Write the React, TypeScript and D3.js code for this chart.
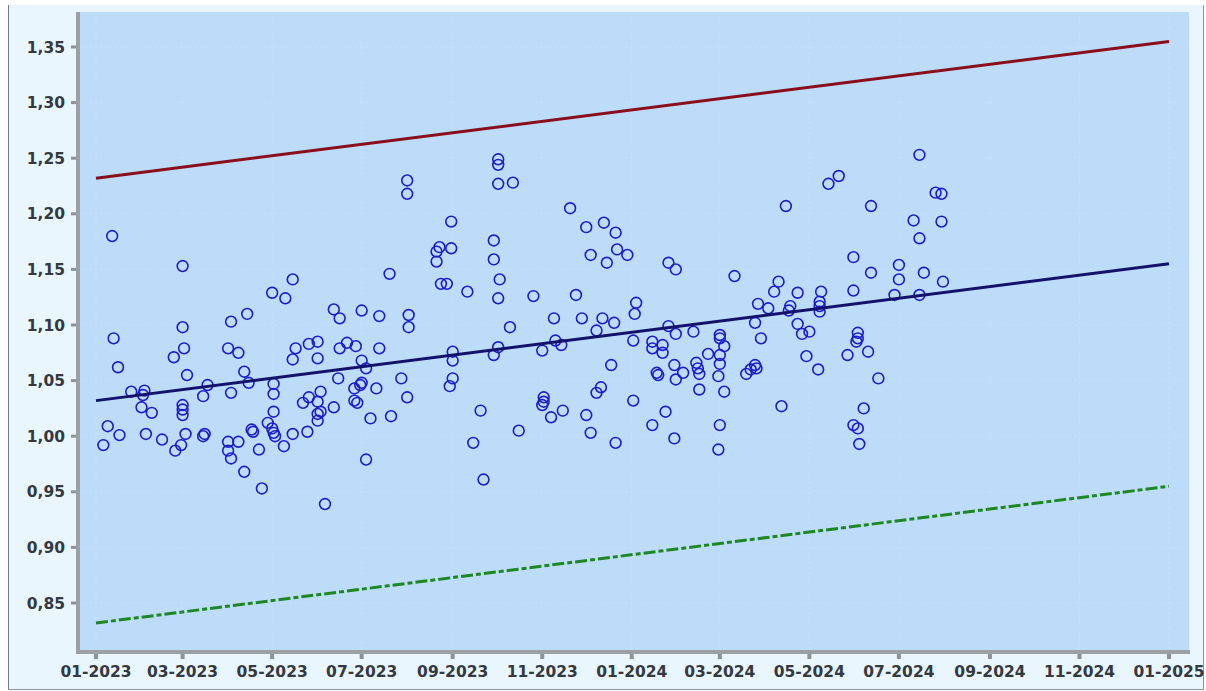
import React from "react";
import * as d3 from "d3";

// ---- data ----
// day offset from 2023-01-01, value
const pointDays: number[] = [
  5, 8, 11, 12, 16, 15, 24, 33, 32, 31, 38, 34, 45, 54, 58, 59, 59, 60, 53, 62,
  59, 59, 59, 61, 73, 74, 76, 73, 90, 92, 97, 92, 90, 97, 90, 92, 101, 113, 111, 106,
  107, 117, 120, 121, 122, 121, 128, 134, 144, 141, 145, 153, 151, 153, 151, 151, 162, 165, 176, 180,
  181, 176, 178, 191, 187, 184, 156, 103, 120, 129, 134, 162, 166, 181, 193, 136, 134, 145, 151, 151,
  166, 171, 177, 193, 181, 184, 101, 104, 121, 121,
  274, 274, 274, 284, 212, 212, 323, 334, 346, 354, 355, 337, 362, 348, 390, 395, 242, 234, 232, 242,
  232, 271, 271, 275, 274, 235, 239, 253, 200, 298, 327, 368, 367, 213, 213, 312, 331, 345, 353, 341,
  282, 243, 243, 274, 271, 304, 313, 317, 366, 379, 379, 386, 386, 395, 390, 351, 394, 382, 383, 395,
  208, 243, 241, 212, 201, 262, 305, 305, 304, 310, 318, 344, 341, 366, 334, 337, 354, 379, 388, 394,
  288, 257, 264,
  561, 506, 499, 572, 576, 470, 528, 557, 576, 561, 516, 547, 528, 547, 564, 577, 435, 465, 462, 478,
  494, 516, 544, 561, 451, 458, 473, 472, 493, 493, 493, 449, 453, 478, 481, 486, 519, 519, 518, 526,
  512, 484, 492, 533, 407, 425, 425, 428, 417, 425, 425, 424, 428, 411, 409, 410, 411, 400, 443, 446,
  449, 450, 467, 523, 516, 519, 520, 425, 424,
];
const pointValues: number[] = [
  0.992, 1.009, 1.180, 1.088, 1.001, 1.062, 1.040, 1.041, 1.037, 1.026, 1.021, 1.002, 0.997, 0.987, 0.992, 1.153, 1.098, 1.079, 1.071, 1.055,
  1.028, 1.024, 1.019, 1.002, 1.000, 1.002, 1.046, 1.036, 1.079, 1.103, 1.075, 1.039, 0.995, 0.995, 0.987, 0.980, 0.968, 0.953, 0.988, 1.006,
  1.004, 1.012, 1.007, 1.003, 1.000, 1.022, 0.991, 1.002, 1.004, 1.030, 1.035, 1.040, 1.031, 1.022, 1.020, 1.014, 1.026, 1.052, 1.043, 1.046,
  1.048, 1.032, 1.030, 1.043, 1.016, 0.979, 0.939, 1.110, 1.129, 1.124, 1.141, 1.114, 1.106, 1.113, 1.108, 1.079, 1.069, 1.083, 1.085, 1.070,
  1.079, 1.084, 1.081, 1.079, 1.068, 1.061, 1.058, 1.048, 1.047, 1.038,
  1.249, 1.244, 1.227, 1.228, 1.230, 1.218, 1.205, 1.188, 1.192, 1.183, 1.168, 1.163, 1.163, 1.156, 1.156, 1.150, 1.193, 1.170, 1.166, 1.169,
  1.157, 1.176, 1.159, 1.141, 1.124, 1.137, 1.137, 1.130, 1.146, 1.126, 1.127, 1.120, 1.110, 1.109, 1.098, 1.106, 1.106, 1.106, 1.102, 1.095,
  1.098, 1.076, 1.068, 1.080, 1.073, 1.077, 1.086, 1.082, 1.086, 1.085, 1.079, 1.082, 1.075, 1.092, 1.099, 1.064, 1.064, 1.057, 1.055, 1.051,
  1.052, 1.052, 1.045, 1.035, 1.018, 1.023, 1.035, 1.031, 1.028, 1.017, 1.023, 1.044, 1.039, 1.032, 1.019, 1.003, 0.994, 1.010, 1.022, 0.998,
  1.005, 0.994, 0.961,
  1.253, 1.234, 1.227, 1.219, 1.218, 1.207, 1.207, 1.194, 1.193, 1.178, 1.161, 1.154, 1.147, 1.141, 1.147, 1.139, 1.144, 1.139, 1.130, 1.129,
  1.130, 1.131, 1.127, 1.127, 1.119, 1.115, 1.117, 1.113, 1.121, 1.117, 1.112, 1.102, 1.088, 1.101, 1.092, 1.094, 1.093, 1.088, 1.085, 1.076,
  1.073, 1.072, 1.060, 1.052, 1.094, 1.091, 1.088, 1.081, 1.074, 1.073, 1.065, 1.054, 1.040, 1.042, 1.066, 1.061, 1.056, 1.057, 1.056, 1.060,
  1.064, 1.061, 1.027, 1.025, 1.010, 1.007, 0.993, 1.010, 0.988,
];
const trendDates = ["2023-01-01", "2025-01-01"];
const trendValues = [1.032, 1.155];
const bandOffset = 0.2;
const yTickValues = [0.85, 0.9, 0.95, 1.0, 1.05, 1.1, 1.15, 1.2, 1.25, 1.3, 1.35];
const xTickStart = "2023-01-01";
const xTickEnd = "2025-01-01";

const W = 1206;
const H = 691;
const plot = { left: 80, right: 1189, top: 12, bottom: 650 };

const parse = d3.utcParse("%Y-%m-%d");
const origin = parse("2023-01-01") as Date;

export default function App() {
  const x = d3
    .scaleUtc()
    .domain([parse(xTickStart) as Date, parse(xTickEnd) as Date])
    .range([96, 1169]);
  const y = d3.scaleLinear().domain([0.85, 1.35]).range([603, 47]);

  const xTicks = d3.utcMonth.every(2)!.range(parse(xTickStart) as Date, d3.utcDay.offset(parse(xTickEnd) as Date, 1));
  const fmtX = d3.utcFormat("%m-%Y");
  const fmtY = (v: number) => d3.format(".2f")(v).replace(".", ",");

  const pts = pointDays.map((d, i) => ({ date: d3.utcDay.offset(origin, d), v: pointValues[i] }));
  const tDates = trendDates.map((s) => parse(s) as Date);
  const lineGen = d3
    .line<{ date: Date; v: number }>()
    .x((d) => x(d.date))
    .y((d) => y(d.v));
  const mk = (off: number) => tDates.map((d, i) => ({ date: d, v: trendValues[i] + off }));

  const font = "'DejaVu Sans', Verdana, sans-serif";

  return (
    <div style={{ position: "absolute", left: 0, top: 0 }}>
      <svg width={W} height={H} style={{ display: "block" }}>
        <rect x={0} y={0} width={W} height={H} fill="#ffffff" />
        <rect x={8} y={5} width={1195} height={684} fill="#eaf6fd" />
        <line x1={8.5} y1={5} x2={8.5} y2={689} stroke="#6f7b86" strokeWidth={1} />
        <line x1={1203.5} y1={5} x2={1203.5} y2={689} stroke="#8a96a0" strokeWidth={1} />
        <line x1={8} y1={689.5} x2={1204} y2={689.5} stroke="#8a96a0" strokeWidth={1} />

        <rect x={plot.left} y={plot.top} width={plot.right - plot.left} height={plot.bottom - plot.top} fill="#bcdcfa" />

        {/* grid */}
        {xTicks.map((t, i) => (
          <line key={"gx" + i} x1={x(t)} x2={x(t)} y1={plot.top} y2={plot.bottom} stroke="#c6e1fa" strokeWidth={1} strokeDasharray="2,3" />
        ))}
        {yTickValues.map((t, i) => (
          <line key={"gy" + i} x1={plot.left} x2={plot.right} y1={y(t)} y2={y(t)} stroke="#c6e1fa" strokeWidth={1} strokeDasharray="2,3" />
        ))}

        {/* points */}
        {pts.map((p, i) => (
          <circle key={"p" + i} cx={x(p.date)} cy={y(p.v)} r={5.4} fill="none" stroke="#1c1ccc" strokeWidth={1.6} />
        ))}

        {/* trend lines */}
        <path d={lineGen(mk(bandOffset)) || ""} fill="none" stroke="#8a0e1c" strokeWidth={3} />
        <path d={lineGen(mk(0)) || ""} fill="none" stroke="#12126a" strokeWidth={3} />
        <path d={lineGen(mk(-bandOffset)) || ""} fill="none" stroke="#1d8723" strokeWidth={3} strokeDasharray="12,3,5,3" />

        {/* axes */}
        <rect x={76} y={plot.top} width={4} height={plot.bottom - plot.top + 4} fill="#9aa0a6" />
        <rect x={76} y={plot.bottom} width={plot.right - 76 + 1} height={4} fill="#9aa0a6" />

        {yTickValues.map((t, i) => (
          <g key={"yt" + i}>
            <line x1={71} x2={76} y1={y(t)} y2={y(t)} stroke="#8c9298" strokeWidth={3} />
            <text x={65} y={y(t)} dy="0.36em" textAnchor="end" fontFamily={font} fontWeight="bold" fontSize={15.5} fill="#333941">
              {fmtY(t)}
            </text>
          </g>
        ))}
        {xTicks.map((t, i) => (
          <g key={"xt" + i}>
            <line x1={x(t)} x2={x(t)} y1={654} y2={659} stroke="#8c9298" strokeWidth={4} />
            <text x={x(t)} y={677} textAnchor="middle" fontFamily={font} fontWeight="bold" fontSize={15.5} fill="#333941">
              {fmtX(t)}
            </text>
          </g>
        ))}
      </svg>
    </div>
  );
}
